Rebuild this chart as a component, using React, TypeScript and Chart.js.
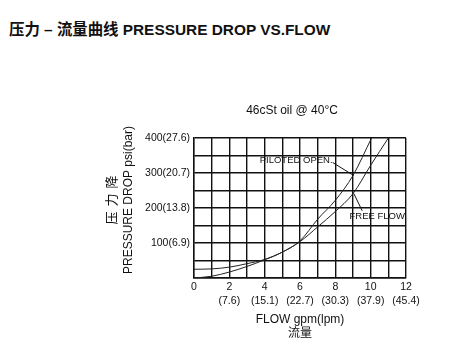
import React, { useEffect, useRef } from 'react';
import { Chart, registerables } from 'chart.js';

Chart.register(...registerables);

const FONT = 'Arial, "Liberation Sans", "Noto Sans CJK SC", sans-serif';

const headerText = '压力 – 流量曲线 PRESSURE DROP VS.FLOW';
const subtitleText = '46cSt oil @ 40°C';
const xTitleLines = ['FLOW gpm(lpm)', '流量'];
const yTitleText = 'PRESSURE DROP psi(bar)';
const yTitleCnChars = ['压', '力', '降'];

const xTickGpm = [0, 2, 4, 6, 8, 10, 12];
const xTickLpm = ['', '(7.6)', '(15.1)', '(22.7)', '(30.3)', '(37.9)', '(45.4)'];
const yTickPsi = [100, 200, 300, 400];
const yTickBar = ['(6.9)', '(13.8)', '(20.7)', '(27.6)'];

const pilotedGpm = [0, 1, 2, 3, 4, 5, 6, 7, 8, 9, 10.05];
const pilotedPsi = [0, 5, 17, 33, 52, 74, 106, 168, 222, 293, 400];
const freeGpm = [0, 1, 2, 3, 4, 5, 6, 7, 8, 9, 10, 11];
const freePsi = [25, 26, 31, 41, 53, 74, 104, 146, 190, 241, 322, 400];

const noteLabels = ['PILOTED OPEN.', 'FREE FLOW'];
const noteTextGpm = [3.72, 8.8];
const noteTextPsi = [335, 176];
const noteFromGpm = [7.85, 9.05];
const noteFromPsi = [330, 241];
const noteToGpm = [9.03, 9.52];
const noteToPsi = [293, 192];

const toPoints = (xs: number[], ys: number[]) => xs.map((x, i) => ({ x, y: ys[i] }));

const annotationPlugin = {
  id: 'customText',
  afterDraw(chart: any) {
    const { ctx, chartArea, scales } = chart;
    const xs = scales.x;
    const ys = scales.y;
    ctx.save();
    ctx.fillStyle = '#111';
    ctx.strokeStyle = '#111';
    ctx.font = `12px ${FONT}`;
    ctx.textAlign = 'center';
    ctx.textBaseline = 'middle';
    ctx.fillText(subtitleText, (chartArea.left + chartArea.right) / 2 - 8, chartArea.top - 27);
    const midY = (chartArea.top + chartArea.bottom) / 2;
    ctx.save();
    ctx.translate(chartArea.left - 65, midY - 8);
    ctx.rotate(-Math.PI / 2);
    ctx.font = `12px ${FONT}`;
    ctx.fillText(yTitleText, 0, 0);
    ctx.restore();
    ctx.font = `13px ${FONT}`;
    yTitleCnChars.forEach((ch, i) => {
      ctx.save();
      ctx.translate(chartArea.left - 82, midY + 10 - i * 18);
      ctx.rotate(-Math.PI / 2);
      ctx.fillText(ch, 0, 0);
      ctx.restore();
    });
    ctx.font = `9.5px ${FONT}`;
    ctx.textAlign = 'left';
    ctx.lineWidth = 1;
    noteLabels.forEach((t, i) => {
      ctx.fillText(t, xs.getPixelForValue(noteTextGpm[i]), ys.getPixelForValue(noteTextPsi[i]));
      ctx.beginPath();
      ctx.moveTo(xs.getPixelForValue(noteFromGpm[i]), ys.getPixelForValue(noteFromPsi[i]));
      ctx.lineTo(xs.getPixelForValue(noteToGpm[i]), ys.getPixelForValue(noteToPsi[i]));
      ctx.stroke();
    });
    ctx.restore();
  },
};

export default function App() {
  const ref = useRef<HTMLCanvasElement | null>(null);
  useEffect(() => {
    if (!ref.current) return;
    const lineStyle = {
      borderColor: '#222',
      borderWidth: 1,
      pointRadius: 0,
      fill: false,
      cubicInterpolationMode: 'monotone' as const,
    };
    const chart = new Chart(ref.current, {
      type: 'line',
      data: {
        datasets: [
          { label: 'PILOTED OPEN', data: toPoints(pilotedGpm, pilotedPsi), ...lineStyle },
          { label: 'FREE FLOW', data: toPoints(freeGpm, freePsi), ...lineStyle },
        ],
      },
      options: {
        animation: false,
        responsive: false,
        devicePixelRatio: 1,
        layout: { padding: { top: 138, left: 0, right: 50, bottom: 22 } },
        plugins: { legend: { display: false }, tooltip: { enabled: false }, title: { display: false } },
        scales: {
          x: {
            type: 'linear',
            min: 0,
            max: 12,
            afterFit: (s: any) => { s.height = 63; },
            grid: { color: '#111', lineWidth: 1.4, drawTicks: false },
            border: { color: '#111', width: 1.4 },
            ticks: {
              stepSize: 1,
              autoSkip: false,
              maxRotation: 0,
              padding: 2,
              color: '#111',
              font: { family: FONT, size: 10.5, lineHeight: '14px' },
              callback: (v: any) => {
                const i = xTickGpm.indexOf(Number(v));
                if (i < 0) return '';
                return xTickLpm[i] ? [String(xTickGpm[i]), xTickLpm[i]] : String(xTickGpm[i]);
              },
            },
            title: {
              display: true,
              text: xTitleLines,
              color: '#111',
              padding: 0,
              font: { family: FONT, size: 12, lineHeight: '14px' },
            },
          },
          y: {
            type: 'linear',
            min: 0,
            max: 400,
            afterFit: (s: any) => { s.width = 194; },
            grid: { color: '#111', lineWidth: 1.4, drawTicks: false },
            border: { color: '#111', width: 1.4 },
            ticks: {
              stepSize: 50,
              autoSkip: false,
              padding: 4,
              color: '#111',
              font: { family: FONT, size: 10.5 },
              callback: (v: any) => {
                const i = yTickPsi.indexOf(Number(v));
                return i < 0 ? '' : `${yTickPsi[i]}${yTickBar[i]}`;
              },
            },
          },
        },
      },
      plugins: [annotationPlugin],
    });
    return () => chart.destroy();
  }, []);

  return (
    <div style={{ position: 'fixed', left: 0, top: 0, width: 456, height: 363, background: '#fff' }}>
      <div
        style={{
          position: 'absolute',
          left: 9,
          top: 21,
          font: `bold 15.4px ${FONT}`,
          lineHeight: '18px',
          color: '#111',
          whiteSpace: 'nowrap',
        }}
      >
        {headerText}
      </div>
      <canvas ref={ref} width={456} height={363} style={{ position: 'absolute', left: 0, top: 0 }} />
    </div>
  );
}
